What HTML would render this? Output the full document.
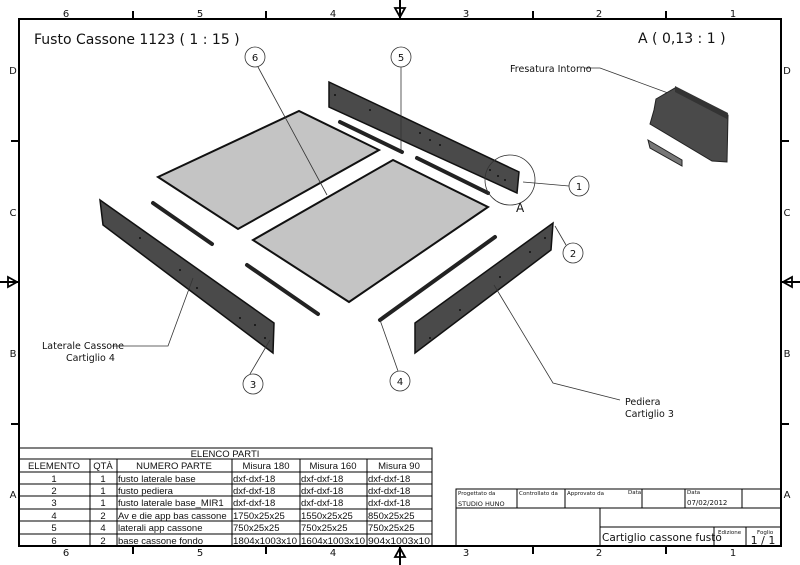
<!DOCTYPE html>
<html><head><meta charset="utf-8"><style>
html,body{margin:0;padding:0;background:#fff}
svg{display:block}
text{font-family:"DejaVu Sans","Liberation Sans",sans-serif;fill:#111}
.t text{font-family:"Liberation Sans",sans-serif}
</style></head><body>
<svg width="800" height="565" viewBox="0 0 800 565" xmlns="http://www.w3.org/2000/svg">
<rect x="19" y="19" width="762" height="527" fill="none" stroke="#000" stroke-width="2"/>
<g stroke="#000" stroke-width="2">
<line x1="133" y1="11" x2="133" y2="19"/><line x1="266" y1="11" x2="266" y2="19"/><line x1="533" y1="11" x2="533" y2="19"/><line x1="666" y1="11" x2="666" y2="19"/>
<line x1="133" y1="546" x2="133" y2="554"/><line x1="266" y1="546" x2="266" y2="554"/><line x1="533" y1="546" x2="533" y2="554"/><line x1="666" y1="546" x2="666" y2="554"/>
<line x1="11" y1="141" x2="19" y2="141"/><line x1="11" y1="424" x2="19" y2="424"/>
<line x1="781" y1="141" x2="789" y2="141"/><line x1="781" y1="424" x2="789" y2="424"/>
<line x1="400" y1="0" x2="400" y2="19"/><line x1="400" y1="546" x2="400" y2="565"/>
<line x1="0" y1="282" x2="19" y2="282"/><line x1="781" y1="282" x2="800" y2="282"/>
</g>
<g fill="none" stroke="#000" stroke-width="1.8">
<polygon points="395,8 405,8 400,17"/><polygon points="395,557 405,557 400,548"/>
<polygon points="8,277 8,287 17,282"/><polygon points="792,277 792,287 783,282"/>
</g>
<g font-size="10" fill="#444" text-anchor="middle">
<text x="66" y="17">6</text><text x="200" y="17">5</text><text x="333" y="17">4</text><text x="466" y="17">3</text><text x="599" y="17">2</text><text x="733" y="17">1</text>
<text x="66" y="556">6</text><text x="200" y="556">5</text><text x="333" y="556">4</text><text x="466" y="556">3</text><text x="599" y="556">2</text><text x="733" y="556">1</text>
<text x="13" y="74">D</text><text x="13" y="216">C</text><text x="13" y="357">B</text><text x="13" y="498">A</text>
<text x="787" y="74">D</text><text x="787" y="216">C</text><text x="787" y="357">B</text><text x="787" y="498">A</text>
</g>
<text x="34" y="44" font-size="14">Fusto Cassone 1123 ( 1 : 15 )</text>
<text x="638" y="43" font-size="14">A ( 0,13 : 1 )</text>

<g stroke="#111" stroke-width="2" fill="#c4c4c4">
<polygon points="158,177 299,111 379,150 238,229"/>
<polygon points="253,240 393,160 488,207 349,302"/>
</g>
<g fill="#4a4a4a" stroke="#111" stroke-width="1.5">
<polygon points="329,82 519,172 517,193 329,107"/>
<polygon points="100,200 274,323 273,353 103,225"/>
<polygon points="415,323 553,223 551,250 415,353"/>
</g>
<g stroke="#222" stroke-width="4" stroke-linecap="round">
<line x1="340" y1="122" x2="402" y2="152"/>
<line x1="417" y1="158" x2="488" y2="193"/>
<line x1="153" y1="203" x2="212" y2="244"/>
<line x1="247" y1="265" x2="318" y2="314"/>
<line x1="495" y1="237" x2="380" y2="320"/>
</g>
<g fill="#111">
<circle cx="335" cy="95" r="1"/><circle cx="370" cy="110" r="1"/><circle cx="420" cy="133" r="1"/><circle cx="430" cy="140" r="1"/><circle cx="440" cy="145" r="1"/><circle cx="490" cy="170" r="1"/><circle cx="498" cy="176" r="1"/><circle cx="505" cy="180" r="1"/>
<circle cx="140" cy="238" r="1"/><circle cx="180" cy="270" r="1"/><circle cx="197" cy="288" r="1"/><circle cx="240" cy="318" r="1"/><circle cx="255" cy="325" r="1"/><circle cx="265" cy="338" r="1"/>
<circle cx="430" cy="338" r="1"/><circle cx="460" cy="310" r="1"/><circle cx="500" cy="277" r="1"/><circle cx="530" cy="252" r="1"/><circle cx="545" cy="238" r="1"/>
</g>
<circle cx="510" cy="180" r="25" fill="none" stroke="#333" stroke-width="0.8"/>
<text x="516" y="212" font-size="12">A</text>
<g stroke="#333" stroke-width="0.8" fill="none">
<line x1="258" y1="67" x2="327" y2="195"/>
<line x1="401" y1="67" x2="401" y2="150"/>
<line x1="569" y1="186" x2="523" y2="182"/>
<line x1="566" y1="245" x2="555" y2="226"/>
<line x1="250" y1="374" x2="270" y2="340"/>
<line x1="398" y1="371" x2="380" y2="320"/>
<polyline points="494,285 553,383 620,400"/>
<polyline points="193,278 168,346 112,346"/>
<polyline points="584,68 600,68 668,93"/>
</g>
<g fill="#fff" stroke="#333" stroke-width="0.8">
<circle cx="255" cy="57" r="10"/><circle cx="401" cy="57" r="10"/><circle cx="579" cy="186" r="10"/><circle cx="573" cy="253" r="10"/><circle cx="253" cy="384" r="10"/><circle cx="400" cy="381" r="10"/>
</g>
<g font-size="10" text-anchor="middle">
<text x="255" y="61">6</text><text x="401" y="61">5</text><text x="579" y="190">1</text><text x="573" y="257">2</text><text x="253" y="388">3</text><text x="400" y="385">4</text>
</g>
<g font-size="9.5">
<text x="42" y="349">Laterale Cassone</text><text x="66" y="361">Cartiglio 4</text>
<text x="625" y="405">Pediera</text><text x="625" y="417">Cartiglio 3</text>
<text x="510" y="72">Fresatura Intorno</text>
</g>
<polygon points="656,99 675,88 728,115 727,162 712,161 650,124 654,110" fill="#4a4a4a" stroke="#222"/>
<polygon points="675,86 728,113 727,119 675,92" fill="#333"/>
<polygon points="648,140 682,160 682,166 650,148" fill="#777" stroke="#222"/>

<g stroke="#000" stroke-width="1" fill="none">
<rect x="19" y="448" width="413" height="98"/>
<line x1="19" y1="459" x2="432" y2="459"/>
<line x1="19" y1="472" x2="432" y2="472"/>
<line x1="19" y1="484" x2="432" y2="484"/>
<line x1="19" y1="496" x2="432" y2="496"/>
<line x1="19" y1="509" x2="432" y2="509"/>
<line x1="19" y1="521" x2="432" y2="521"/>
<line x1="19" y1="534" x2="432" y2="534"/>
<line x1="90" y1="459" x2="90" y2="546"/>
<line x1="117" y1="459" x2="117" y2="546"/>
<line x1="232" y1="459" x2="232" y2="546"/>
<line x1="300" y1="459" x2="300" y2="546"/>
<line x1="367" y1="459" x2="367" y2="546"/>
</g>
<g class="t">
<g font-size="9.5" text-anchor="middle">
<text x="225" y="457">ELENCO PARTI</text>
<text x="54" y="469">ELEMENTO</text><text x="103" y="469">QTÀ</text><text x="174" y="469">NUMERO PARTE</text><text x="266" y="469">Misura 180</text><text x="333" y="469">Misura 160</text><text x="399" y="469">Misura 90</text>
<text x="54" y="482">1</text><text x="103" y="482">1</text>
<text x="54" y="494">2</text><text x="103" y="494">1</text>
<text x="54" y="506">3</text><text x="103" y="506">1</text>
<text x="54" y="519">4</text><text x="103" y="519">2</text>
<text x="54" y="531">5</text><text x="103" y="531">4</text>
<text x="54" y="544">6</text><text x="103" y="544">2</text>
</g>
<g font-size="9.5">
<text x="118" y="482">fusto laterale base</text><text x="233" y="482">dxf-dxf-18</text><text x="301" y="482">dxf-dxf-18</text><text x="368" y="482">dxf-dxf-18</text>
<text x="118" y="494">fusto pediera</text><text x="233" y="494">dxf-dxf-18</text><text x="301" y="494">dxf-dxf-18</text><text x="368" y="494">dxf-dxf-18</text>
<text x="118" y="506">fusto laterale base_MIR1</text><text x="233" y="506">dxf-dxf-18</text><text x="301" y="506">dxf-dxf-18</text><text x="368" y="506">dxf-dxf-18</text>
<text x="118" y="519">Av e die app bas cassone</text><text x="233" y="519">1750x25x25</text><text x="301" y="519">1550x25x25</text><text x="368" y="519">850x25x25</text>
<text x="118" y="531">laterali app cassone</text><text x="233" y="531">750x25x25</text><text x="301" y="531">750x25x25</text><text x="368" y="531">750x25x25</text>
<text x="118" y="544">base cassone fondo</text><text x="233" y="544" textLength="64" lengthAdjust="spacingAndGlyphs">1804x1003x10</text><text x="301" y="544" textLength="64" lengthAdjust="spacingAndGlyphs">1604x1003x10</text><text x="368" y="544" textLength="62" lengthAdjust="spacingAndGlyphs">904x1003x10</text>
</g>
</g>

<g stroke="#000" stroke-width="1" fill="none">
<rect x="456" y="489" width="325" height="57"/>
<line x1="456" y1="508" x2="781" y2="508"/>
<line x1="517" y1="489" x2="517" y2="508"/>
<line x1="565" y1="489" x2="565" y2="508"/>
<line x1="642" y1="489" x2="642" y2="508"/>
<line x1="685" y1="489" x2="685" y2="508"/>
<line x1="742" y1="489" x2="742" y2="508"/>
<line x1="600" y1="508" x2="600" y2="546"/>
<line x1="600" y1="527" x2="781" y2="527"/>
<line x1="714" y1="527" x2="714" y2="546"/>
<line x1="746" y1="527" x2="746" y2="546"/>
</g>
<g font-size="5.5">
<text x="458" y="495">Progettato da</text><text x="519" y="495">Controllato da</text><text x="567" y="495">Approvato da</text><text x="628" y="494">Data</text><text x="687" y="494">Data</text>
<text x="718" y="534">Edizione</text><text x="757" y="534">Foglio</text>
</g>
<text x="458" y="506" font-size="6.5">STUDIO HUNO</text>
<text x="687" y="505" font-size="7" font-family="Liberation Mono,monospace">07/02/2012</text>
<text x="602" y="541" font-size="10.5">Cartiglio cassone fusto</text>
<text x="763" y="544" font-size="11" text-anchor="middle">1 / 1</text>
</svg>
</body></html>
